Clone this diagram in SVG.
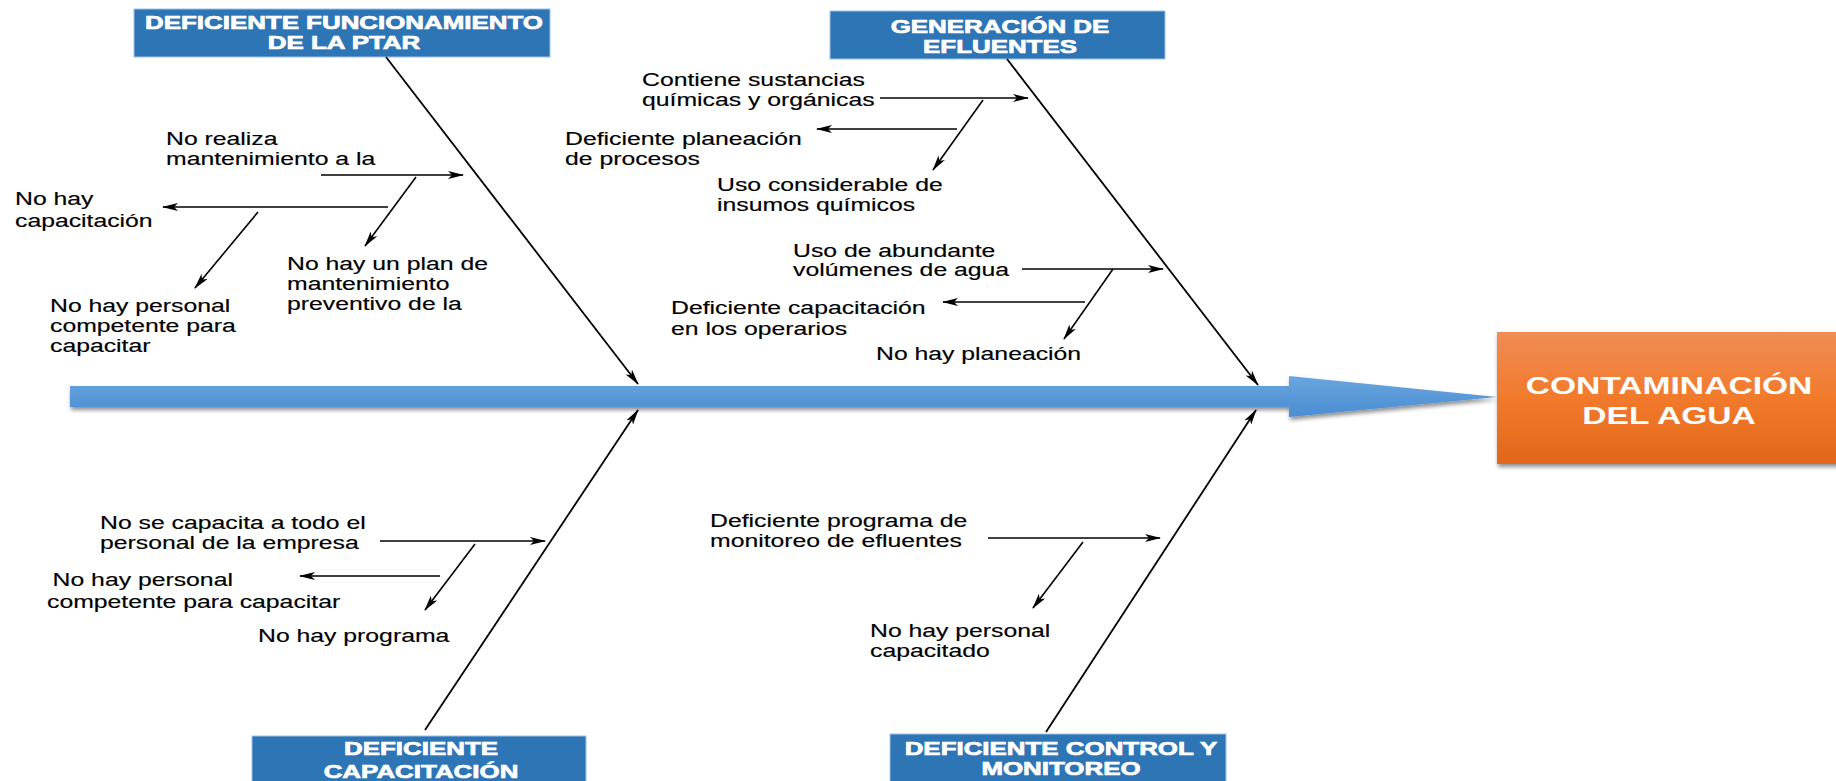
<svg xmlns="http://www.w3.org/2000/svg" width="1836" height="781" viewBox="0 0 1836 781">
<style>
.t{font-family:"Liberation Sans",Arial,sans-serif;font-size:17.7px;fill:#000;stroke:#000;stroke-width:0.15}
.h{font-family:"Liberation Sans",Arial,sans-serif;font-size:18.5px;font-weight:bold;fill:#fff;stroke:#fff;stroke-width:0.7;text-anchor:middle}
.e{font-family:"Liberation Sans",Arial,sans-serif;font-size:24px;font-weight:bold;fill:#fff;text-anchor:middle}
.hb{fill:#2E75B6;stroke:#9DC3E6;stroke-width:1}
.ln{stroke:#000;stroke-width:1.6;fill:none;marker-end:url(#ah)}
.bn{stroke:#000;stroke-width:1.8;fill:none;marker-end:url(#ah)}
</style>
<defs>
<marker id="ah" viewBox="0 0 16 8" refX="15" refY="4" markerUnits="userSpaceOnUse" markerWidth="16" markerHeight="8" orient="auto">
<path d="M0,0 L16,4 L0,8 L4,4 Z" fill="#000"/>
</marker>
<linearGradient id="gArrow" x1="0" y1="0" x2="0" y2="1">
<stop offset="0" stop-color="#6AA6DE"/>
<stop offset="1" stop-color="#4A8DD3"/>
</linearGradient>
<linearGradient id="gOrange" x1="0" y1="0" x2="0" y2="1">
<stop offset="0" stop-color="#F08C56"/>
<stop offset="0.5" stop-color="#F27A2C"/>
<stop offset="1" stop-color="#E2661B"/>
</linearGradient>
<filter id="sh" x="-5%" y="-20%" width="110%" height="150%">
<feGaussianBlur in="SourceAlpha" stdDeviation="2"/>
<feOffset dx="1" dy="3" result="b"/>
<feComponentTransfer><feFuncA type="linear" slope="0.45"/></feComponentTransfer>
<feMerge><feMergeNode/><feMergeNode in="SourceGraphic"/></feMerge>
</filter>
</defs>
<rect width="1836" height="781" fill="#fff"/>

<g id="spine">
<path d="M70,386 L1289,386 L1289,376 L1497,397 L1289,417 L1289,407 L70,407 Z" fill="url(#gArrow)" filter="url(#sh)"/>
</g>

<g id="effect">
<rect x="1497" y="332" width="345" height="132" fill="url(#gOrange)" filter="url(#sh)"/>
<text class="e" transform="translate(1669,394) scale(1.4,1)">CONTAMINACIÓN</text>
<text class="e" transform="translate(1669,424) scale(1.4,1)">DEL AGUA</text>
</g>

<g id="cat-ptar">
<rect class="hb" x="134" y="9" width="416" height="48"/>
<text class="h" transform="translate(344,29) scale(1.4,1)">DEFICIENTE FUNCIONAMIENTO</text>
<text class="h" transform="translate(344,49) scale(1.4,1)">DE LA PTAR</text>
</g>

<g id="cat-efluentes">
<rect class="hb" x="830" y="11" width="335" height="48"/>
<text class="h" transform="translate(1000,33) scale(1.4,1)">GENERACIÓN DE</text>
<text class="h" transform="translate(1000,53) scale(1.4,1)">EFLUENTES</text>
</g>

<g id="cat-capacitacion">
<rect class="hb" x="252" y="736" width="334" height="60"/>
<text class="h" transform="translate(421,755) scale(1.4,1)">DEFICIENTE</text>
<text class="h" transform="translate(421,778) scale(1.4,1)">CAPACITACIÓN</text>
</g>

<g id="cat-control">
<rect class="hb" x="890" y="734" width="336" height="60"/>
<text class="h" transform="translate(1061,755) scale(1.4,1)">DEFICIENTE CONTROL Y</text>
<text class="h" transform="translate(1061,775) scale(1.4,1)">MONITOREO</text>
</g>

<g id="connectors">
<line class="bn" x1="386" y1="57" x2="638" y2="384"/>
<line class="bn" x1="1007" y1="59" x2="1258" y2="385"/>
<line class="bn" x1="425" y1="730" x2="638" y2="410"/>
<line class="bn" x1="1046" y1="732" x2="1256" y2="410"/>
<line class="ln" x1="321" y1="175" x2="463" y2="175"/>
<line class="ln" x1="416" y1="177" x2="365" y2="246"/>
<line class="ln" x1="388" y1="207" x2="163" y2="207"/>
<line class="ln" x1="258" y1="212" x2="195" y2="288"/>
<line class="ln" x1="880" y1="98" x2="1028" y2="98"/>
<line class="ln" x1="983" y1="100" x2="933" y2="170"/>
<line class="ln" x1="957" y1="129" x2="817" y2="129"/>
<line class="ln" x1="1022" y1="269" x2="1163" y2="269"/>
<line class="ln" x1="1113" y1="269" x2="1064" y2="339"/>
<line class="ln" x1="1085" y1="302" x2="943" y2="302"/>
<line class="ln" x1="380" y1="541" x2="545" y2="541"/>
<line class="ln" x1="475" y1="544" x2="425" y2="610"/>
<line class="ln" x1="440" y1="576" x2="300" y2="576"/>
<line class="ln" x1="988" y1="538" x2="1160" y2="538"/>
<line class="ln" x1="1083" y1="542" x2="1033" y2="608"/>
</g>

<g id="c1"><text class="t" transform="translate(166,0) scale(1.4,1)"><tspan x="0" y="145">No realiza</tspan><tspan x="0" y="165">mantenimiento a la</tspan></text></g>
<g id="c2"><text class="t" transform="translate(15,0) scale(1.4,1)"><tspan x="0" y="205">No hay</tspan><tspan x="0" y="227">capacitación</tspan></text></g>
<g id="c3"><text class="t" transform="translate(50,0) scale(1.4,1)"><tspan x="0" y="312">No hay personal</tspan><tspan x="0" y="332">competente para</tspan><tspan x="0" y="352">capacitar</tspan></text></g>
<g id="c4"><text class="t" transform="translate(287,0) scale(1.4,1)"><tspan x="0" y="270">No hay un plan de</tspan><tspan x="0" y="290">mantenimiento</tspan><tspan x="0" y="310">preventivo de la</tspan></text></g>
<g id="c5"><text class="t" transform="translate(642,0) scale(1.4,1)"><tspan x="0" y="86">Contiene sustancias</tspan><tspan x="0" y="106">químicas y orgánicas</tspan></text></g>
<g id="c6"><text class="t" transform="translate(565,0) scale(1.4,1)"><tspan x="0" y="145">Deficiente planeación</tspan><tspan x="0" y="165">de procesos</tspan></text></g>
<g id="c7"><text class="t" transform="translate(717,0) scale(1.4,1)"><tspan x="0" y="191">Uso considerable de</tspan><tspan x="0" y="211">insumos químicos</tspan></text></g>
<g id="c8"><text class="t" transform="translate(793,0) scale(1.4,1)"><tspan x="0" y="257">Uso de abundante</tspan><tspan x="0" y="276">volúmenes de agua</tspan></text></g>
<g id="c9"><text class="t" transform="translate(671,0) scale(1.4,1)"><tspan x="0" y="314">Deficiente capacitación</tspan><tspan x="0" y="335">en los operarios</tspan></text></g>
<g id="c10"><text class="t" transform="translate(876,0) scale(1.4,1)"><tspan x="0" y="360">No hay planeación</tspan></text></g>
<g id="c11"><text class="t" transform="translate(100,0) scale(1.4,1)"><tspan x="0" y="529">No se capacita a todo el</tspan><tspan x="0" y="549">personal de la empresa</tspan></text></g>
<g id="c12"><text class="t" transform="translate(47,0) scale(1.4,1)"><tspan x="4" y="586">No hay personal</tspan><tspan x="0" y="608">competente para capacitar</tspan></text></g>
<g id="c13"><text class="t" transform="translate(258,0) scale(1.4,1)"><tspan x="0" y="642">No hay programa</tspan></text></g>
<g id="c14"><text class="t" transform="translate(710,0) scale(1.4,1)"><tspan x="0" y="527">Deficiente programa de</tspan><tspan x="0" y="547">monitoreo de efluentes</tspan></text></g>
<g id="c15"><text class="t" transform="translate(870,0) scale(1.4,1)"><tspan x="0" y="637">No hay personal</tspan><tspan x="0" y="657">capacitado</tspan></text></g>
</svg>
